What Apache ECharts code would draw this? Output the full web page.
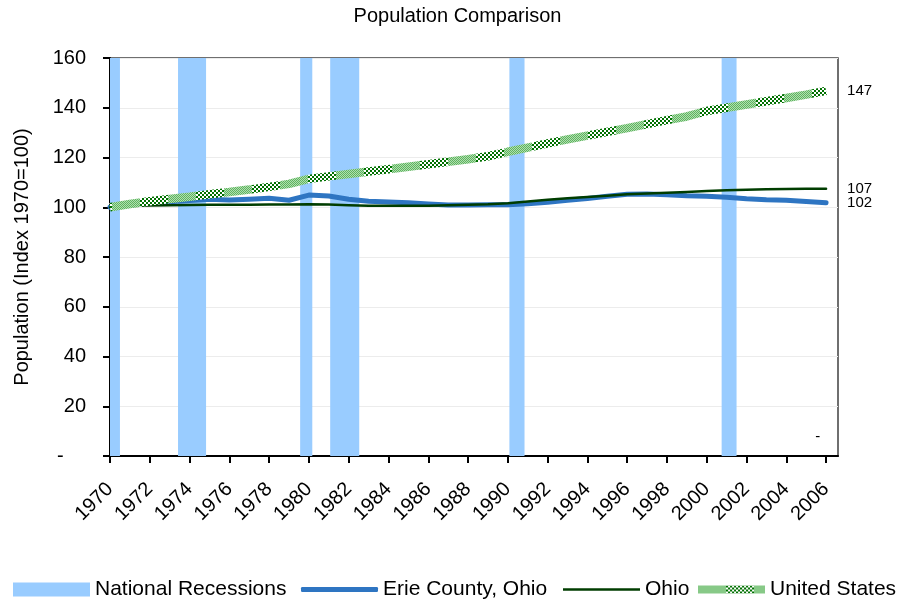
<!DOCTYPE html>
<html>
<head>
<meta charset="utf-8">
<script src="https://cdn.jsdelivr.net/npm/echarts@6/dist/echarts.min.js"></script>
<style>html,body{margin:0;padding:0;background:#fff}#c{width:915px;height:601px}</style>
</head>
<body>
<div id="c"></div>
<script>
const years = [1970,1971,1972,1973,1974,1975,1976,1977,1978,1979,1980,1981,1982,1983,1984,1985,1986,1987,1988,1989,1990,1991,1992,1993,1994,1995,1996,1997,1998,1999,2000,2001,2002,2003,2004,2005,2006];
const erie = [100,100.9,101.7,102.2,102.7,103.2,102.9,103.2,103.6,102.8,104.9,104.5,103.2,102.4,102.1,101.8,101.3,100.9,100.9,101.0,101.0,101.4,102.0,102.8,103.5,104.4,105.2,105.3,105.0,104.6,104.4,104.0,103.4,103.0,102.8,102.3,101.8];
const ohio = [100,100.5,100.7,100.8,100.9,101.0,101.0,101.0,101.1,101.1,101.2,101.1,100.8,100.6,100.6,100.6,100.6,100.8,101.0,101.2,101.6,102.3,103.0,103.6,104.1,104.6,105.2,105.5,105.8,106.1,106.5,106.8,107.0,107.2,107.3,107.4,107.4];
const us = [100,101.3,102.4,103.3,104.2,105.2,106.1,107.1,108.2,109.4,111.4,112.4,113.4,114.4,115.3,116.3,117.3,118.3,119.3,120.5,122.3,124.0,125.7,127.3,128.8,130.3,131.8,133.4,135.0,136.5,138.7,140.0,141.3,142.6,143.9,145.3,146.8];
const recessionStart = [1970.0,1973.42,1979.56,1981.07,1990.08,2000.75];
const recessionEnd   = [1970.5,1974.83,1980.17,1982.53,1990.84,2001.5];
const xTickYears = [1970,1972,1974,1976,1978,1980,1982,1984,1986,1988,1990,1992,1994,1996,1998,2000,2002,2004,2006];
const yTicks = [0,20,40,60,80,100,120,140,160];

const FONT = '"Liberation Sans", Arial, sans-serif';

function makePattern() {
  const c = document.createElement('canvas');
  c.width = 56; c.height = 8;
  const g = c.getContext('2d');
  g.fillStyle = '#b0deb0'; g.fillRect(0, 0, 28, 8);
  for (let x = 0; x < 28; x += 1) for (let y = 0; y < 8; y += 1) {
    if ((x + y) % 2 === 0) { g.fillStyle = '#5fb45f'; g.fillRect(x, y, 1, 1); }
  }
  for (let x = 28; x < 56; x += 2) for (let y = 0; y < 8; y += 2) {
    g.fillStyle = (((x - 28) / 2 + y / 2) % 2 === 0) ? '#007000' : '#ffffff';
    g.fillRect(x, y, 2, 2);
  }
  return c;
}
const usPattern = { image: makePattern(), repeat: 'repeat' };

const pairs = arr => years.map((y, i) => [y, arr[i]]);
const endLabel = { show: true, formatter: p => Math.round(p.value[1]), distance: 21, fontSize: 15, color: '#000', fontFamily: FONT };

const chart = echarts.init(document.getElementById('c'));
const legendBase = { top: 579, padding: 0, textStyle: { fontSize: 21, color: '#000', fontFamily: FONT }, selectedMode: false, itemGap: 0 };
chart.setOption({
  animation: false,
  title: { text: 'Population Comparison', left: 'center', top: 1, textStyle: { fontSize: 20, fontWeight: 'normal', color: '#000', fontFamily: FONT } },
  legend: [
    Object.assign({}, legendBase, { left: 13, itemWidth: 77, itemHeight: 14, data: [{ name: 'National Recessions', icon: 'rect' }] }),
    Object.assign({}, legendBase, { left: 301, itemWidth: 77, itemHeight: 5, data: [{ name: 'Erie County, Ohio', icon: 'roundRect', itemStyle: { color: '#2e75c2' } }] }),
    Object.assign({}, legendBase, { left: 563, itemWidth: 77, itemHeight: 2.5, data: [{ name: 'Ohio', icon: 'rect', itemStyle: { color: '#003d00' } }] }),
    Object.assign({}, legendBase, { left: 698, itemWidth: 67, itemHeight: 8, data: [{ name: 'United States', icon: 'rect', itemStyle: { color: usPattern } }] })
  ],
  grid: { left: 110, right: 77, top: 58, bottom: 145, show: true, borderColor: '#404040', borderWidth: 1.5, containLabel: false },
  xAxis: {
    type: 'value', min: 1970, max: 2006.6,
    axisLine: { lineStyle: { color: '#000', width: 2 } },
    axisTick: { length: 7, lineStyle: { color: '#000', width: 2 }, customValues: xTickYears },
    axisLabel: { rotate: 45, fontSize: 20, color: '#000', fontFamily: FONT, margin: 30, customValues: xTickYears, formatter: v => String(v) },
    splitLine: { show: false }
  },
  yAxis: {
    type: 'value', min: 0, max: 160, interval: 20,
    name: 'Population (Index 1970=100)', nameLocation: 'middle', nameGap: 78,
    nameTextStyle: { fontSize: 20, color: '#000', fontFamily: FONT },
    axisLine: { show: true, lineStyle: { color: '#000', width: 2 } },
    axisTick: { show: true, length: 7, lineStyle: { color: '#000', width: 2 }, customValues: yTicks },
    axisLabel: { fontSize: 20, color: '#000', fontFamily: FONT, margin: 24, customValues: yTicks, formatter: v => v === 0 ? '-    ' : String(v) },
    splitLine: { show: true, lineStyle: { color: '#ececec', width: 1 } }
  },
  series: [
    {
      type: 'custom', name: 'National Recessions', z: 1,
      itemStyle: { color: '#99ccff' },
      data: recessionStart.map((s, i) => [s, recessionEnd[i], 160]),
      encode: { x: [0, 1], y: 2 },
      renderItem: (params, api) => {
        const a = api.coord([api.value(0), 160]);
        const b = api.coord([api.value(1), 0]);
        return { type: 'rect', shape: { x: a[0], y: a[1], width: b[0] - a[0], height: b[1] - a[1] }, style: { fill: '#99ccff' } };
      },
      markPoint: {
        symbol: 'circle', symbolSize: 0,
        label: { show: true, formatter: '-', color: '#000', fontSize: 15, fontFamily: FONT, position: 'inside' },
        data: [{ coord: [2005.58, 7.6] }]
      }
    },
    {
      type: 'line', name: 'Erie County, Ohio', data: pairs(erie), symbol: 'none', z: 3,
      lineStyle: { color: '#2e75c2', width: 5, cap: 'round', join: 'round' }, itemStyle: { color: '#2e75c2' },
      endLabel: endLabel
    },
    {
      type: 'line', name: 'Ohio', data: pairs(ohio), symbol: 'none', z: 4,
      lineStyle: { color: '#003d00', width: 2.5, cap: 'round', join: 'round' }, itemStyle: { color: '#003d00' },
      endLabel: endLabel
    },
    {
      type: 'line', name: 'United States', data: pairs(us), symbol: 'none', z: 5,
      lineStyle: { color: usPattern, width: 8.5 }, itemStyle: { color: '#66bb66' },
      endLabel: endLabel
    }
  ]
});
</script>
</body>
</html>
